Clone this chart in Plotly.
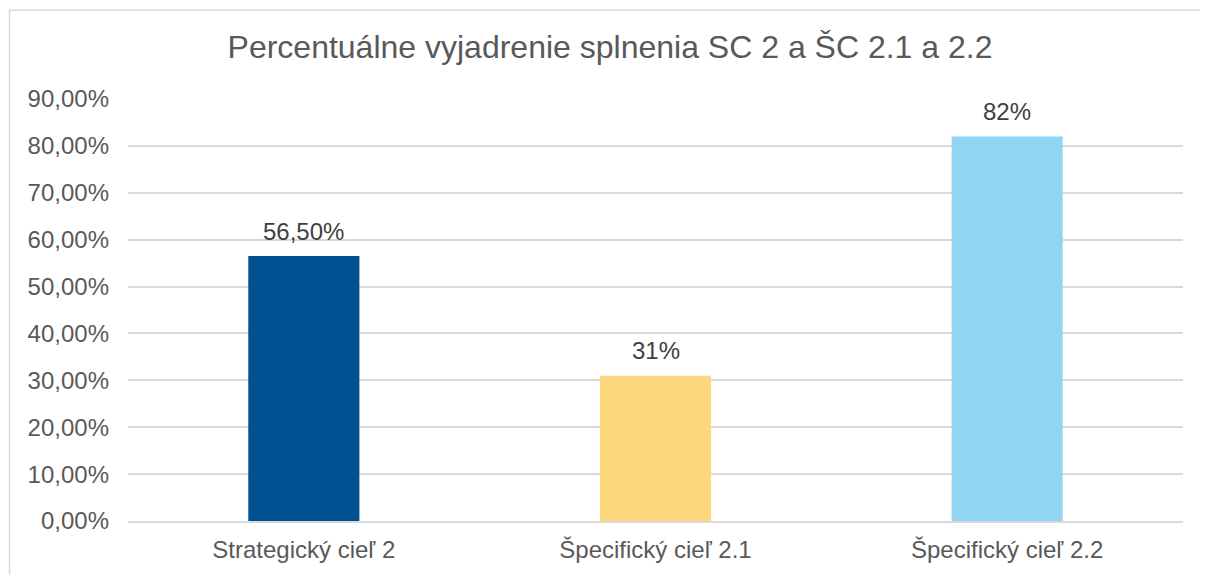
import plotly.graph_objects as go

categories = ["Strategický cieľ 2", "Špecifický cieľ 2.1", "Špecifický cieľ 2.2"]
values = [56.5, 31, 82]
labels = ["56,50%", "31%", "82%"]
colors = ["#005192", "#FED67B", "#91D5F5"]
tick_vals = [0, 10, 20, 30, 40, 50, 60, 70, 80, 90]
tick_text = ["0,00%", "10,00%", "20,00%", "30,00%", "40,00%", "50,00%",
             "60,00%", "70,00%", "80,00%", "90,00%"]

FONT = "Liberation Sans, Arial, sans-serif"

fig = go.Figure(go.Bar(
    x=categories, y=values, marker_color=colors, marker_line_width=0,
))

for c, v, lab in zip(categories, values, labels):
    fig.add_annotation(x=c, y=v, text=lab, showarrow=False,
                       yanchor="middle", yshift=25,
                       font=dict(family=FONT, size=24, color="#404040"))

# page body has 8px margin; size the figure to fill the rest
W, H = 1200, 567
l, r, t, b = 120, 25, 91, 50
pw, ph = W - l - r, H - t - b

fig.update_layout(
    width=W, height=H,
    margin=dict(l=l, r=r, t=t, b=b),
    paper_bgcolor="white", plot_bgcolor="white",
    bargap=0.684,
    showlegend=False,
    title=dict(text="Percentuálne vyjadrenie splnenia SC 2 a ŠC 2.1 a 2.2",
               x=602 / W, xanchor="center", y=1 - 39 / H, yanchor="middle",
               font=dict(family=FONT, size=32, color="#595959")),
    font=dict(family=FONT, color="#595959"),
    shapes=[dict(type="rect", xref="paper", yref="paper",
                 x0=(1.5 - l) / pw, x1=(W + 20 - l) / pw,
                 y0=(H - b - (H + 20)) / ph, y1=(H - b - 1.5) / ph,
                 line=dict(color="#d9d9d9", width=1.5), fillcolor="rgba(0,0,0,0)",
                 layer="below")],
)
fig.update_yaxes(range=[0, 90], tickvals=tick_vals, ticktext=tick_text,
                 showgrid=True, gridcolor="#d9d9d9", gridwidth=1.5,
                 zeroline=False, showline=False, ticks="",
                 ticklabelstandoff=18,
                 tickfont=dict(family=FONT, size=24, color="#595959"))
fig.update_xaxes(showline=True, linecolor="#d9d9d9", linewidth=1.5,
                 ticks="", showgrid=False, ticklabelstandoff=6,
                 tickfont=dict(family=FONT, size=24, color="#595959"))

fig.write_html("out.html")
